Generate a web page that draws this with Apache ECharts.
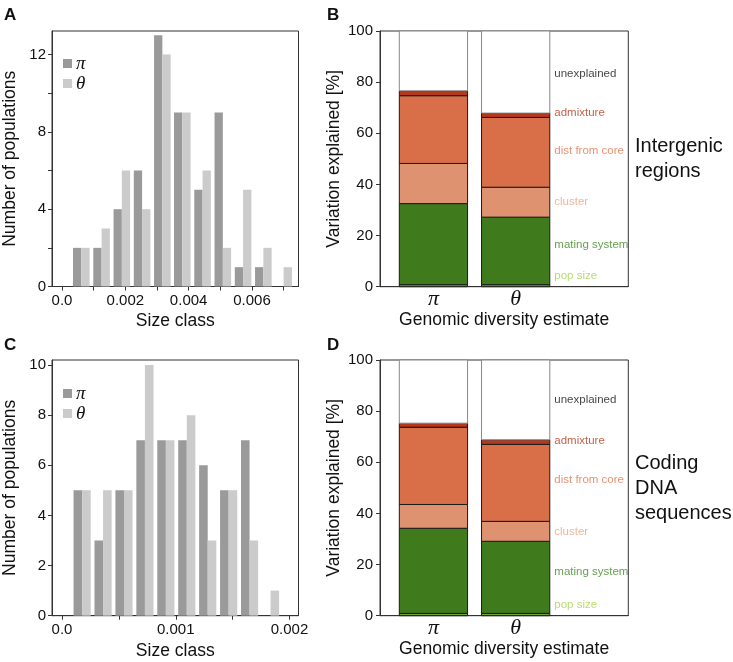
<!DOCTYPE html>
<html>
<head>
<meta charset="utf-8">
<script src="https://cdn.jsdelivr.net/npm/echarts@6/dist/echarts.min.js"></script>
<style>
html, body { margin: 0; padding: 0; background: #fff; }
#main { width: 733px; height: 662px; }
</style>
</head>
<body>
<div id="main"></div>
<script>
// Panel A - intergenic regions, histogram of size classes
const binCentersA = [0.00061, 0.00125, 0.00189, 0.00253, 0.00317, 0.0038, 0.00444, 0.00508, 0.00572, 0.00636, 0.007];
const piA = [2, 2, 4, 6, 13, 9, 5, 9, 1, 1, 0];
const thetaA = [2, 3, 6, 4, 12, 9, 6, 2, 5, 2, 1];

// Panel C - coding DNA sequences
const binCentersC = [0.000177, 0.000361, 0.000545, 0.000729, 0.000913, 0.001097, 0.001281, 0.001465, 0.001649, 0.001833];
const piC = [5, 3, 5, 7, 7, 7, 6, 5, 7, 0];
const thetaC = [5, 5, 5, 10, 7, 8, 3, 5, 3, 1];

// Panels B / D - variance partitioning (bottom -> top)
const components = ['pop size', 'mating system', 'cluster', 'dist from core', 'admixture', 'unexplained'];
const estimates = ['π', 'θ'];
const intergenicPi = [0.8, 31.7, 15.7, 26.5, 1.9, 23.4];
const intergenicTheta = [0.8, 26.4, 11.7, 27.3, 1.7, 32.1];
const codingPi = [0.9, 33.3, 9.3, 30.2, 1.6, 24.7];
const codingTheta = [0.9, 28.2, 7.8, 30.1, 1.8, 31.2];
const labelPosB = [4.3, 16.5, 33, 53, 68, 83.3];
const labelPosD = [4.2, 17.2, 32.9, 53, 68.4, 84.4];

const segFill = ['#76a03a', '#3f7a1c', '#df9270', '#d86f48', '#b5381c', '#ffffff'];
const labelColor = ['#a5d34a', '#3d8a22', '#eda27f', '#e2764c', '#b5381c', '#111111'];

const sans = 'Liberation Sans';
const serif = 'Liberation Serif';
const axisCol = '#333';

const chart = echarts.init(document.getElementById('main'));

// draws one half of a histogram bin (side 0 = π on the left, 1 = θ on the right)
function histRender(binW, side) {
    return function (params, api) {
        const c = api.value(0);
        const n = api.value(1);
        const w = binW * 0.41;
        const x0 = side === 0 ? c - w : c;
        const p0 = api.coord([x0, n]);
        const p1 = api.coord([x0 + w, 0]);
        return {
            type: 'rect',
            shape: { x: p0[0], y: p0[1], width: p1[0] - p0[0], height: p1[1] - p0[1] },
            style: { fill: api.visual('color') }
        };
    };
}

function stackData(pi, theta) {
    const out = [];
    [pi, theta].forEach((vals, i) => {
        let base = 0;
        vals.forEach((v, k) => {
            out.push([i, base, base + v, k]);
            base += v;
        });
    });
    return out;
}

function stackRender(params, api) {
    const i = api.value(0);
    const k = api.value(3);
    const p0 = api.coord([i - 0.415, api.value(2)]);
    const p1 = api.coord([i + 0.415, api.value(1)]);
    return {
        type: 'rect',
        shape: { x: p0[0], y: p0[1], width: p1[0] - p0[0], height: p1[1] - p0[1] },
        style: {
            fill: segFill[k],
            stroke: k === 5 ? '#888' : '#1a1a1a',
            lineWidth: 1
        }
    };
}

function labelData(pos) {
    return pos.map((y, k) => ({
        value: [1.464, y],
        label: { color: labelColor[k] }
    }));
}

const gridBox = { show: true, borderColor: axisCol, borderWidth: 1, backgroundColor: 'transparent' };

function histX(idx, min, max, ticks, labels) {
    return {
        type: 'value', gridIndex: idx, min: min, max: max,
        name: 'Size class', nameLocation: 'middle', nameGap: 26,
        nameTextStyle: { fontFamily: sans, fontSize: 17.5, color: '#111' },
        axisLine: { show: true, onZero: false, lineStyle: { color: axisCol } },
        axisTick: { show: true, inside: false, length: 4, customValues: ticks, lineStyle: { color: axisCol } },
        axisLabel: {
            customValues: labels, margin: 7, fontFamily: sans, fontSize: 15, color: '#111',
            formatter: v => (v === 0 ? '0.0' : v.toFixed(3))
        },
        splitLine: { show: false }
    };
}

function histY(idx, max, ticks, labels) {
    return {
        type: 'value', gridIndex: idx, min: 0, max: max,
        name: 'Number of populations', nameLocation: 'middle', nameGap: 33,
        nameTextStyle: { fontFamily: sans, fontSize: 17.5, color: '#111' },
        axisLine: { show: true, onZero: false, lineStyle: { color: axisCol } },
        axisTick: { show: true, length: 4, customValues: ticks, lineStyle: { color: axisCol } },
        axisLabel: { customValues: labels, margin: 6, fontFamily: sans, fontSize: 15, color: '#111' },
        splitLine: { show: false }
    };
}

function stackX(idx) {
    return {
        type: 'value', gridIndex: idx, min: -0.65, max: 2.37,
        name: 'Genomic diversity estimate', nameLocation: 'middle', nameGap: 24,
        nameTextStyle: { fontFamily: sans, fontSize: 17.5, color: '#111' },
        axisLine: { show: true, onZero: false, lineStyle: { color: axisCol } },
        axisTick: { show: false },
        axisLabel: {
            customValues: [0, 1], margin: 2, fontFamily: serif, fontStyle: 'italic', fontSize: 22, color: '#111',
            formatter: v => estimates[Math.round(v)]
        },
        splitLine: { show: false }
    };
}

function stackY(idx) {
    return {
        type: 'value', gridIndex: idx, min: 0, max: 100, interval: 20,
        name: 'Variation explained [%]', nameLocation: 'middle', nameGap: 37,
        nameTextStyle: { fontFamily: sans, fontSize: 17.5, color: '#111' },
        axisLine: { show: true, onZero: false, lineStyle: { color: axisCol } },
        axisTick: { show: true, length: 4, lineStyle: { color: axisCol } },
        axisLabel: { margin: 7, fontFamily: sans, fontSize: 15, color: '#111' },
        splitLine: { show: false }
    };
}

function legendAt(top) {
    return {
        data: ['π', 'θ'], orient: 'vertical', left: 58, top: top,
        icon: 'rect', itemWidth: 9, itemHeight: 9, itemGap: 1,
        selectedMode: false,
        textStyle: { fontFamily: serif, fontStyle: 'italic', fontSize: 19, lineHeight: 11, color: '#111', padding: [0, 0, 0, -1] }
    };
}

const labelSeries = (idx, pos) => ({
    type: 'scatter', xAxisIndex: idx, yAxisIndex: idx,
    symbolSize: 1, itemStyle: { color: 'rgba(0,0,0,0)' }, silent: true,
    label: {
        show: true, position: 'right', distance: 0,
        fontFamily: sans, fontSize: 11.5,
        formatter: p => components[p.dataIndex]
    },
    data: labelData(pos)
});

const option = {
    animation: false,
    backgroundColor: '#fff',
    grid: [
        Object.assign({ left: 52, top: 31, width: 246.5, height: 255.5 }, gridBox),
        Object.assign({ left: 380, top: 31, width: 248.3, height: 255.7 }, gridBox),
        Object.assign({ left: 52, top: 360, width: 246.5, height: 255.7 }, gridBox),
        Object.assign({ left: 380, top: 360, width: 248.3, height: 255.7 }, gridBox)
    ],
    xAxis: [
        histX(0, -0.000316, 0.00747, [0, 0.001, 0.002, 0.003, 0.004, 0.005, 0.006, 0.007], [0, 0.002, 0.004, 0.006]),
        stackX(1),
        histX(2, -0.0000879, 0.002079, [0, 0.0005, 0.001, 0.0015, 0.002], [0, 0.001, 0.002]),
        stackX(3)
    ],
    yAxis: [
        histY(0, 13.22, [0, 2, 4, 6, 8, 10, 12], [0, 4, 8, 12]),
        stackY(1),
        histY(2, 10.2, [0, 2, 4, 6, 8, 10], [0, 2, 4, 6, 8, 10]),
        stackY(3)
    ],
    legend: [legendAt(49), legendAt(379)],
    series: [
        { name: 'π', type: 'custom', xAxisIndex: 0, yAxisIndex: 0, itemStyle: { color: '#9a9a9a' },
          renderItem: histRender(0.000639, 0), data: binCentersA.map((c, i) => [c, piA[i]]) },
        { name: 'θ', type: 'custom', xAxisIndex: 0, yAxisIndex: 0, itemStyle: { color: '#cbcbcb' },
          renderItem: histRender(0.000639, 1), data: binCentersA.map((c, i) => [c, thetaA[i]]) },
        { name: 'π', type: 'custom', xAxisIndex: 2, yAxisIndex: 2, itemStyle: { color: '#9a9a9a' },
          renderItem: histRender(0.000184, 0), data: binCentersC.map((c, i) => [c, piC[i]]) },
        { name: 'θ', type: 'custom', xAxisIndex: 2, yAxisIndex: 2, itemStyle: { color: '#cbcbcb' },
          renderItem: histRender(0.000184, 1), data: binCentersC.map((c, i) => [c, thetaC[i]]) },
        { type: 'custom', xAxisIndex: 1, yAxisIndex: 1, renderItem: stackRender,
          data: stackData(intergenicPi, intergenicTheta) },
        { type: 'custom', xAxisIndex: 3, yAxisIndex: 3, renderItem: stackRender,
          data: stackData(codingPi, codingTheta) },
        labelSeries(1, labelPosB),
        labelSeries(3, labelPosD)
    ],
    graphic: [
        { type: 'text', left: 4, top: 7, style: { text: 'A', font: 'bold 17px Liberation Sans', fill: '#111' } },
        { type: 'text', left: 327, top: 7, style: { text: 'B', font: 'bold 17px Liberation Sans', fill: '#111' } },
        { type: 'text', left: 4, top: 337, style: { text: 'C', font: 'bold 17px Liberation Sans', fill: '#111' } },
        { type: 'text', left: 327, top: 337, style: { text: 'D', font: 'bold 17px Liberation Sans', fill: '#111' } },
        { type: 'text', left: 635, top: 134, style: { text: 'Intergenic\nregions', font: '20px Liberation Sans', lineHeight: 25, fill: '#111' } },
        { type: 'text', left: 635, top: 451, style: { text: 'Coding\nDNA\nsequences', font: '20px Liberation Sans', lineHeight: 25, fill: '#111' } }
    ]
};

chart.setOption(option);
</script>
</body>
</html>
